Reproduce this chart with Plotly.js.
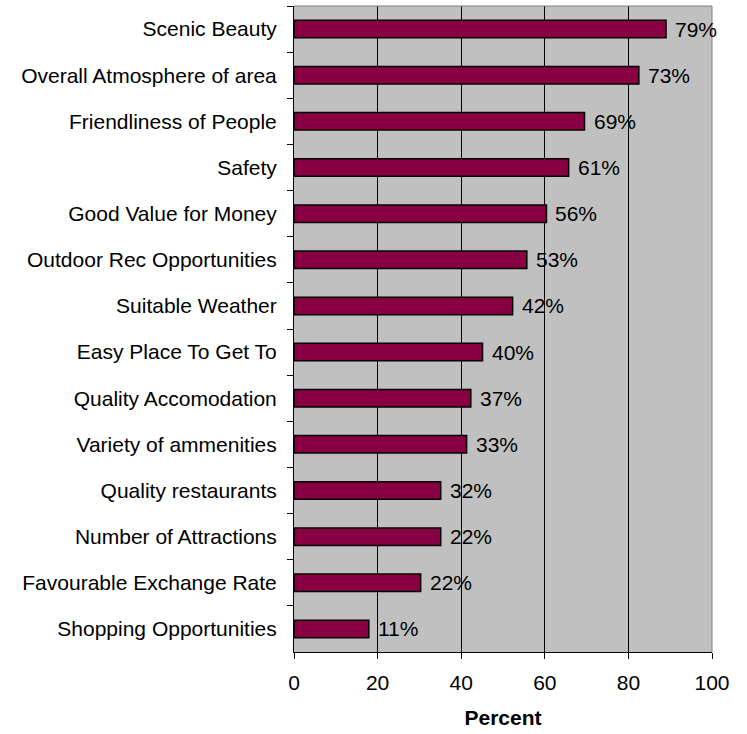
<!DOCTYPE html>
<html>
<head>
<meta charset="utf-8">
<script src="https://cdn.plot.ly/plotly-3.0.1.min.js"></script>
<style>html,body{margin:0;padding:0;background:#fff;}#chart{width:747px;height:734px;}</style>
</head>
<body>
<div id="chart"></div>
<script>
const categories = [
  "Scenic Beauty",
  "Overall Atmosphere of area",
  "Friendliness of People",
  "Safety",
  "Good Value for Money",
  "Outdoor Rec Opportunities",
  "Suitable Weather",
  "Easy Place To Get To",
  "Quality Accomodation",
  "Variety of ammenities",
  "Quality restaurants",
  "Number of Attractions",
  "Favourable Exchange Rate",
  "Shopping Opportunities"
];
const barValues = [89, 82.5, 69.5, 65.7, 60.4, 55.7, 52.3, 45.1, 42.3, 41.3, 35.1, 35.1, 30.3, 17.9];
const labelTexts = ["79%", "73%", "69%", "61%", "56%", "53%", "42%", "40%", "37%", "33%", "32%", "22%", "22%", "11%"];
const xTicks = [0, 20, 40, 60, 80, 100];

const FONT = "Liberation Sans, Arial, sans-serif";

const trace = {
  type: "bar",
  orientation: "h",
  y: categories,
  x: barValues,
  width: 0.38,
  marker: { color: "#880041", line: { color: "#000000", width: 1.5 } },
  hoverinfo: "none"
};

const annotations = categories.map((c, i) => ({
  x: barValues[i],
  y: c,
  xref: "x",
  yref: "y",
  text: labelTexts[i],
  showarrow: false,
  xanchor: "left",
  yanchor: "middle",
  xshift: 7,
  font: { family: FONT, size: 21, color: "#000" }
}));

const layout = {
  width: 747,
  height: 734,
  margin: { l: 294, r: 35, t: 6, b: 82 },
  paper_bgcolor: "#ffffff",
  plot_bgcolor: "#c0c0c0",
  showlegend: false,
  font: { family: FONT, size: 21, color: "#000" },
  xaxis: {
    range: [0, 100],
    tickvals: xTicks,
    ticktext: xTicks.map(String),
    showgrid: true,
    gridcolor: "#000000",
    gridwidth: 1,
    zeroline: false,
    showline: true,
    linecolor: "#000000",
    linewidth: 1,
    ticks: "outside",
    ticklen: 6,
    tickcolor: "#000",
    ticklabelstandoff: 6,
    tickfont: { family: FONT, size: 21, color: "#000" },
    title: { text: "<b>Percent</b>", font: { family: FONT, size: 21, color: "#000" }, standoff: 17 },
    fixedrange: true
  },
  yaxis: {
    type: "category",
    categoryorder: "array",
    categoryarray: categories,
    autorange: "reversed",
    showgrid: false,
    zeroline: false,
    showline: true,
    linecolor: "#000000",
    linewidth: 1,
    ticks: "outside",
    tickson: "boundaries",
    ticklen: 6,
    tickcolor: "#000",
    ticklabelstandoff: 12,
    tickfont: { family: FONT, size: 21, color: "#000" },
    fixedrange: true
  },
  shapes: [
    { type: "line", xref: "paper", yref: "paper", x0: 0, x1: 1, y0: 1, y1: 1, line: { color: "#808080", width: 1 }, layer: "above" },
    { type: "line", xref: "paper", yref: "paper", x0: 1, x1: 1, y0: 0, y1: 1, line: { color: "#808080", width: 1 }, layer: "above" }
  ],
  annotations: annotations
};

Plotly.newPlot("chart", [trace], layout, { displayModeBar: false, staticPlot: true });
</script>
</body>
</html>
